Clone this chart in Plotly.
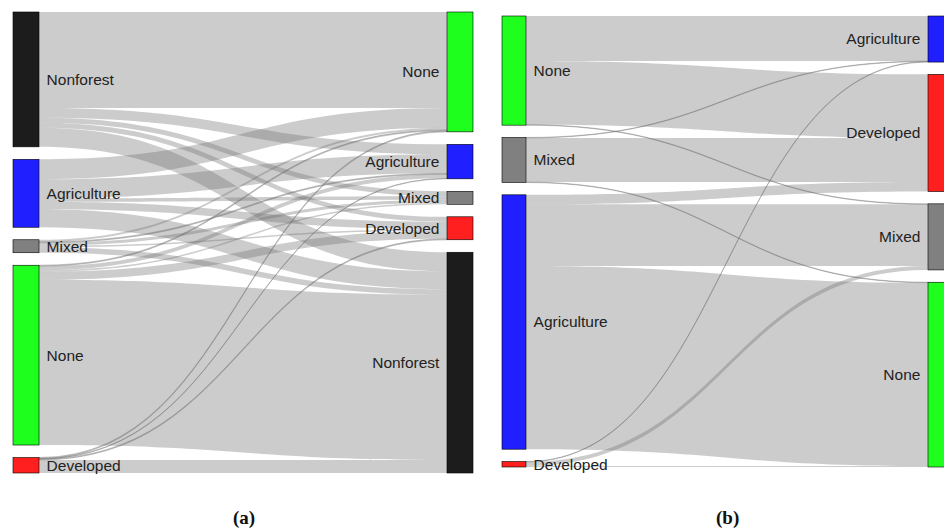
import plotly.graph_objects as go

# Land-cover classes and their colours
classes = ["Nonforest", "Agriculture", "Mixed", "None", "Developed"]
class_colors = {
    "Nonforest": "#1c1c1c",
    "Agriculture": "#1f1fff",
    "Mixed": "#808080",
    "None": "#1eff1e",
    "Developed": "#ff1f1f",
}
class_lines = {
    "Nonforest": "#111111",
    "Agriculture": "#1414b0",
    "Mixed": "#606060",
    "None": "#14b014",
    "Developed": "#b01414",
}

# Panel (a): column order, and flows (rows = source, columns = target, both in `classes` order)
left_order_a = ["Nonforest", "Agriculture", "Mixed", "None", "Developed"]
right_order_a = ["None", "Agriculture", "Mixed", "Developed", "Nonforest"]
flows_a = [
    [19, 10, 5, 96, 5],         # Nonforest ->
    [18, 19, 3.5, 20, 7.5],     # Agriculture ->
    [5.5, 1, 3, 2, 1.5],        # Mixed ->
    [165.5, 4, 1.5, 1, 8],      # None ->
    [13, 0.5, 0, 1, 1],         # Developed ->
]

# Panel (b)
left_order_b = ["None", "Mixed", "Agriculture", "Developed"]
right_order_b = ["Agriculture", "Developed", "Mixed", "None"]
flows_b = [
    [0, 0, 0, 0, 0],            # Nonforest ->
    [0, 0, 61.5, 183, 9.5],     # Agriculture ->
    [0, 0.5, 0, 0.5, 44],       # Mixed ->
    [0, 45, 0.5, 0, 63.5],      # None ->
    [0, 0.5, 4, 1, 0],          # Developed ->
]

FIG_W, FIG_H = 944, 528
NBSP = "\u00a0"


def column_centers(values, pad, height, ky):
    centers, cum = [], 0.0
    for v in values:
        centers.append((cum + v * ky / 2) / height)
        cum += v * ky + pad
    return centers


def build_sankey(left_order, right_order, flows, px_x, px_y, thickness, pad, right_center_px=None):
    width = px_x[1] - px_x[0]
    height = px_y[1] - px_y[0]
    idx = {c: i for i, c in enumerate(classes)}
    left_vals = [sum(flows[idx[c]]) for c in left_order]
    right_vals = [sum(row[idx[c]] for row in flows) for c in right_order]
    ky = min((height - (len(left_vals) - 1) * pad) / sum(left_vals),
             (height - (len(right_vals) - 1) * pad) / sum(right_vals))
    ly = column_centers(left_vals, pad, height, ky)
    ry = column_centers(right_vals, pad, height, ky)
    lx = (thickness / 2) / width
    if right_center_px is None:
        rx = (width - thickness / 2) / width
    else:
        rx = (right_center_px - px_x[0]) / width

    # a non-breaking space pushes each label a little further from its bar
    labels = [NBSP + c for c in left_order] + [c + NBSP for c in right_order]
    classes_in_nodes = list(left_order) + list(right_order)
    node_colors = [class_colors[c] for c in classes_in_nodes]
    line_colors = [class_lines[c] for c in classes_in_nodes]
    xs = [lx] * len(left_order) + [rx] * len(right_order)
    ys = ly + ry

    src, tgt, val = [], [], []
    for si, s in enumerate(left_order):
        for ti, t in enumerate(right_order):
            v = flows[idx[s]][idx[t]]
            if v > 0:
                src.append(si)
                tgt.append(len(left_order) + ti)
                val.append(v)

    return go.Sankey(
        arrangement="fixed",
        domain=dict(x=[px_x[0] / FIG_W, min(px_x[1] / FIG_W, 1.0)],
                    y=[1 - px_y[1] / FIG_H, 1 - px_y[0] / FIG_H]),
        node=dict(
            label=labels,
            color=node_colors,
            line=dict(color=line_colors, width=0.6),
            thickness=thickness,
            pad=pad,
            x=xs,
            y=ys,
            hoverinfo="none",
        ),
        link=dict(
            source=src,
            target=tgt,
            value=val,
            color="rgba(110,110,110,0.35)",
            line=dict(width=0),
            hoverinfo="none",
        ),
        textfont=dict(family="Liberation Sans, Arial, sans-serif", size=15.5,
                      color="#222222", shadow="none"),
    )


fig = go.Figure()
fig.add_trace(build_sankey(left_order_a, right_order_a, flows_a,
                           px_x=(13, 473), px_y=(12, 473), thickness=26, pad=12.5))
fig.add_trace(build_sankey(left_order_b, right_order_b, flows_b,
                           px_x=(502, 944), px_y=(16, 467), thickness=24, pad=12.3,
                           right_center_px=940))

caption_font = dict(family="Liberation Serif, serif", size=19, color="#111111")
for label, cx in (("(a)", 244), ("(b)", 727)):
    fig.add_annotation(x=cx / FIG_W, y=1 - 518 / FIG_H, xref="paper", yref="paper",
                       xanchor="center", yanchor="middle",
                       text="<b>" + label + "</b>", showarrow=False, font=caption_font)

fig.update_layout(
    width=FIG_W,
    height=FIG_H,
    margin=dict(l=0, r=0, t=0, b=0),
    paper_bgcolor="white",
    plot_bgcolor="white",
)

fig.write_html("out.html")
